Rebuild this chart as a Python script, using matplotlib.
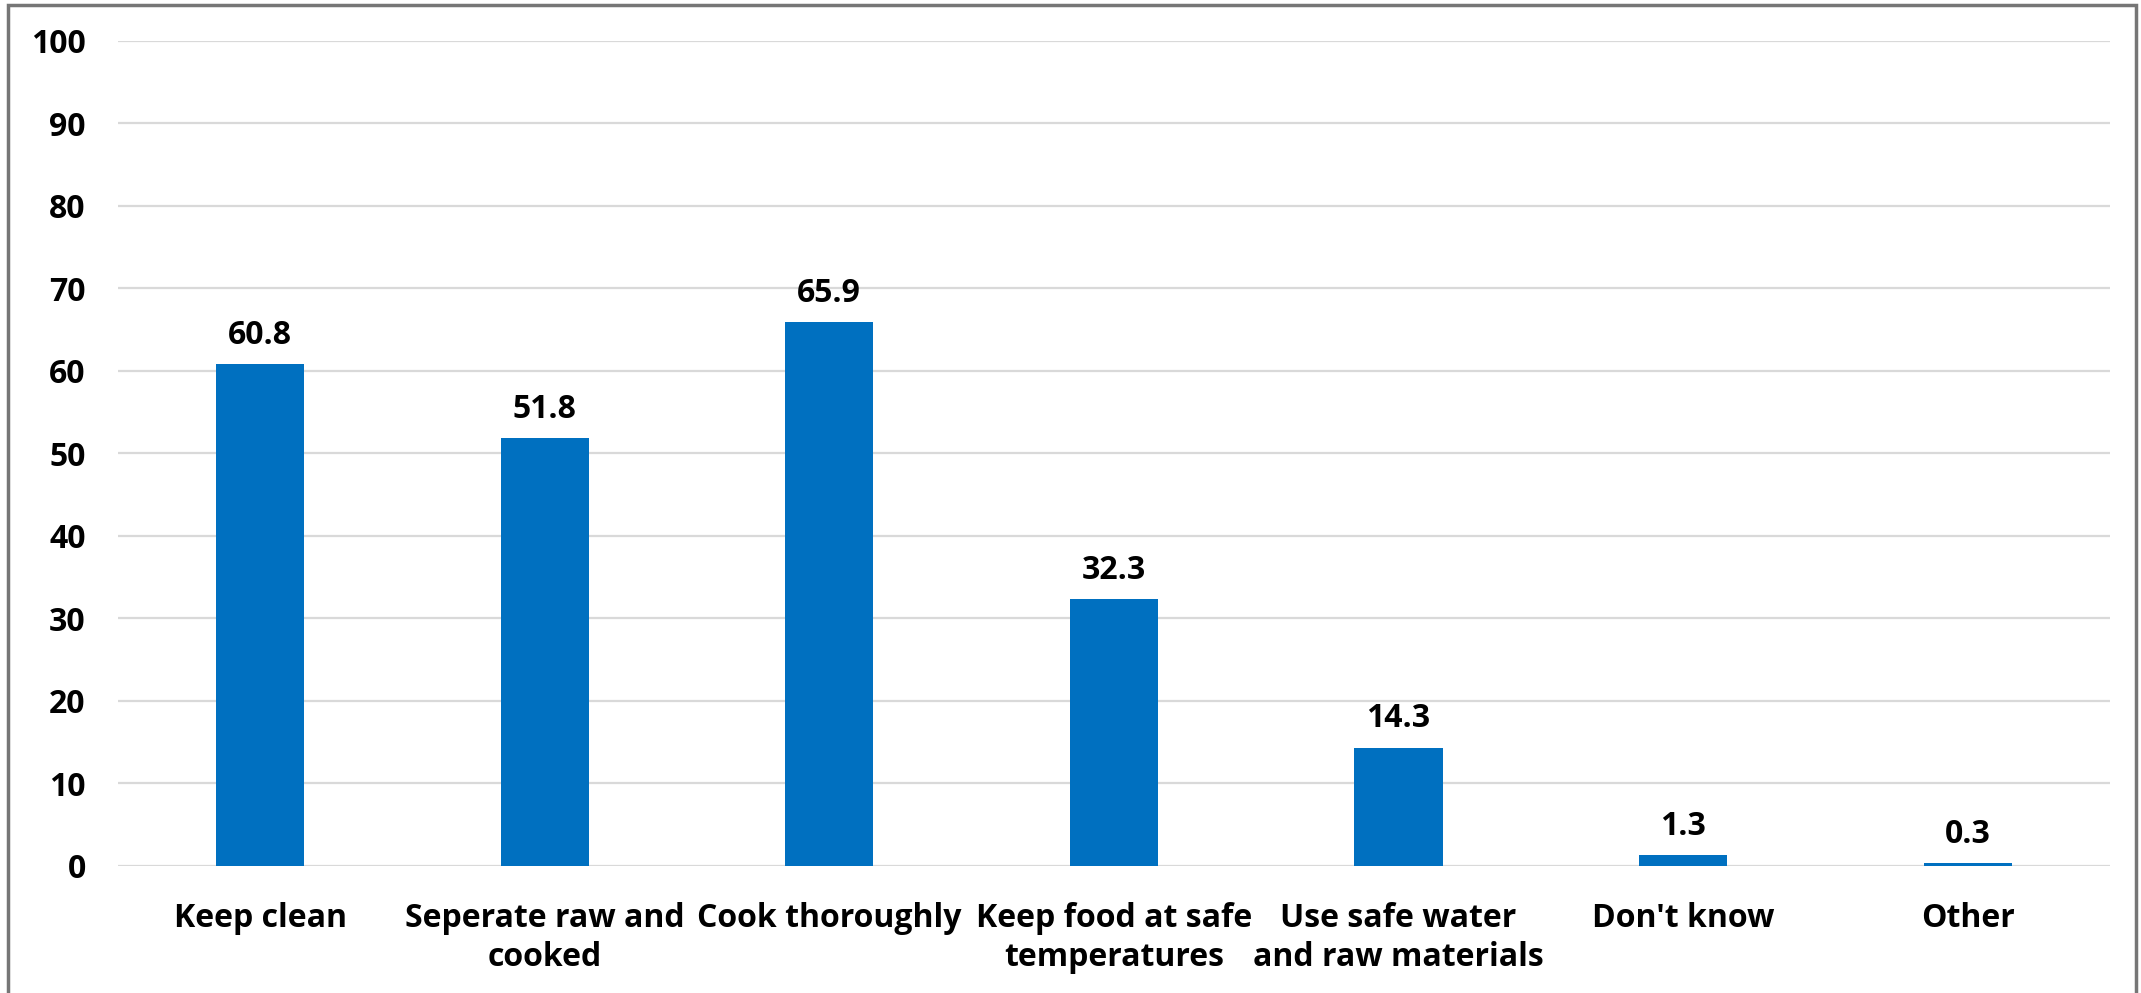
import matplotlib.pyplot as plt
from matplotlib.patches import Rectangle

categories = ['Keep clean', 'Seperate raw and\ncooked', 'Cook thoroughly',
              'Keep food at safe\ntemperatures', 'Use safe water\nand raw materials',
              "Don't know", 'Other']
values = [60.8, 51.8, 65.9, 32.3, 14.3, 1.3, 0.3]
yticks = [0, 10, 20, 30, 40, 50, 60, 70, 80, 90, 100]

plt.rcParams['font.family'] = ['Open Sans', 'DejaVu Sans']
plt.rcParams['font.weight'] = 'bold'

fig = plt.figure(figsize=(21.41, 9.93), dpi=100)
ax = fig.add_axes([0.055, 0.128, 0.9305, 0.831])

x = range(len(categories))
bars = ax.bar(x, values, width=0.31, color='#0070C0', zorder=3)
for xi, v in zip(x, values):
    ax.annotate(f'{v:.1f}', (xi, v), xytext=(0, 9), textcoords='offset points',
                ha='center', va='bottom', fontsize=23, fontweight='bold')

ax.set_ylim(0, 100)
ax.set_xlim(-0.5, len(categories) - 0.5)
ax.set_yticks(yticks)
ax.set_xticks(list(x))
ax.set_xticklabels(categories, fontsize=23, fontweight='bold', linespacing=1.25)
ax.tick_params(axis='y', labelsize=23, length=0, pad=23)
ax.tick_params(axis='x', length=0, pad=26)
ax.grid(axis='y', color='#d9d9d9', linewidth=1.6, zorder=0)
for s in ax.spines.values():
    s.set_visible(False)

fig.add_artist(Rectangle((8 / 2141, -0.05), 2128 / 2141, 1.05 - 5 / 993,
                         transform=fig.transFigure, fill=False,
                         edgecolor='#767676', linewidth=2.5))

fig.savefig('out.png', dpi=100)
